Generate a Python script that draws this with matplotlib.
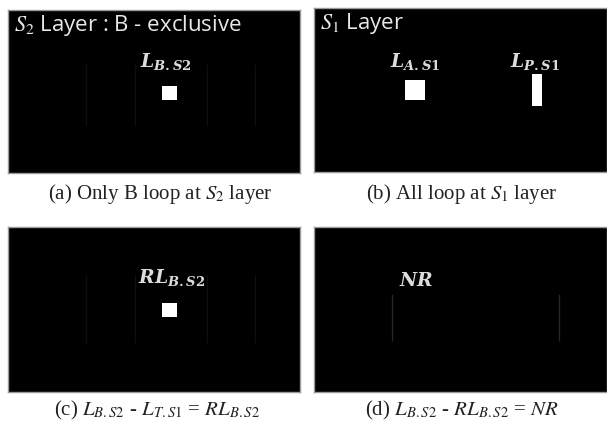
import matplotlib.pyplot as plt
from matplotlib.patches import Rectangle

plt.rcParams['mathtext.fontset'] = 'custom'
plt.rcParams['mathtext.it'] = 'DejaVu Serif:italic:bold'
plt.rcParams['mathtext.rm'] = 'DejaVu Serif:bold'

W, H = 607, 428

# panel boxes in figure pixels: left, top, width, height
panels = [(8, 10, 292, 163), (314, 8, 293, 164), (8, 227, 292, 165), (314, 227, 293, 165)]

titles = [r'$S_2$ Layer : B - exclusive', r'$S_1$ Layer', '', '']

# loop labels per panel: (text, x, y) in panel pixels
labels = [
    [(r'$L_{B.S2}$', 158, 52)],
    [(r'$L_{A.S1}$', 101, 54), (r'$L_{P.S1}$', 221, 54)],
    [(r'$RL_{B.S2}$', 164, 51)],
    [(r'$NR$', 102, 53)],
]

# white loop rectangles: x, y, w, h in panel pixels
loops = [
    [(154, 76, 15, 14)],
    [(91, 72, 20, 20), (218, 66, 10, 32)],
    [(154, 76, 15, 14)],
    [],
]

# faint vertical traces: x, y0, y1
traces = [
    [(78, 55, 115), (127, 55, 115), (199, 55, 115), (247, 55, 115)],
    [],
    [(78, 48, 115), (127, 48, 115), (199, 48, 115), (247, 48, 115)],
    [(78, 68, 113), (245, 68, 113)],
]
trace_colors = ['#0f0f0f', '#0f0f0f', '#0f0f0f', '#262626']

captions = [
    r'(a) Only B loop at $S_2$ layer',
    r'(b) All loop at $S_1$ layer',
    r'(c) $L_{B.S2}$ - $L_{T.S1}$ = $RL_{B.S2}$',
    r'(d) $L_{B.S2}$ - $RL_{B.S2}$ = $NR$',
]
caption_pos = [(160, 194), (462, 194), (157, 410), (462, 410)]

fig = plt.figure(figsize=(W / 100, H / 100), dpi=100)
fig.patch.set_facecolor('white')

for i, (px, py, pw, ph) in enumerate(panels):
    ax = fig.add_axes([px / W, 1 - (py + ph) / H, pw / W, ph / H])
    ax.set_facecolor('black')
    ax.set_xlim(0, pw)
    ax.set_ylim(ph, 0)
    ax.set_xticks([])
    ax.set_yticks([])
    for s in ax.spines.values():
        s.set_color('#9a9a9a')
        s.set_linewidth(1.0)
    if titles[i]:
        ax.text(6, 16, titles[i], color='#e8e8e8', fontsize=16, family='Open Sans',
                ha='left', va='center', math_fontfamily='stix')
    for txt, x, y in labels[i]:
        ax.text(x, y, txt, color='#dcdcdc', fontsize=13.5, ha='center', va='center')
    for x, y, w, h in loops[i]:
        ax.add_patch(Rectangle((x, y), w, h, facecolor='white', edgecolor='none'))
    for x, y0, y1 in traces[i]:
        ax.plot([x, x], [y0, y1], color=trace_colors[i], lw=1)

for cap, (cx, cy) in zip(captions, caption_pos):
    fig.text(cx / W, 1 - cy / H, cap, ha='center', va='center', fontsize=15,
             family='Liberation Serif', color='#222222', math_fontfamily='stix')

fig.savefig('out.png', dpi=100)
